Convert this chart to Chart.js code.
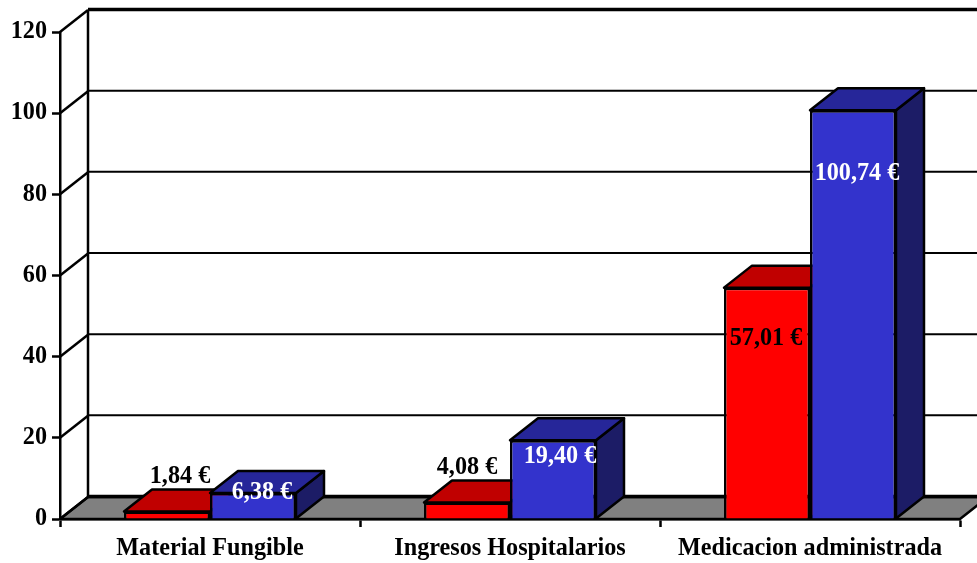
<!DOCTYPE html>
<html>
<head>
<meta charset="utf-8">
<script src="https://cdn.jsdelivr.net/npm/chart.js@4"></script>
<style>html,body{margin:0;padding:0;background:#fff;overflow:hidden}canvas{display:block}</style>
</head>
<body>
<canvas id="c" width="977" height="563"></canvas>
<script>
const categories = ["Material Fungible", "Ingresos Hospitalarios", "Medicacion administrada"];
const redValues = [1.84, 4.08, 57.01];
const blueValues = [6.38, 19.40, 100.74];
const redLabels = ["1,84 €", "4,08 €", "57,01 €"];
const blueLabels = ["6,38 €", "19,40 €", "100,74 €"];
const yTicks = [0, 20, 40, 60, 80, 100, 120];

const DX = 28, DY = 22;
const FONT = "Liberation Serif";
const SIZE = 24.2;
const redLabelOffsets = [[13, -35], [0, -35], [-1, 51]];
const blueLabelOffsets = [[9, 0], [7, 16], [4, 64]];

function poly(ctx, pts, fill, lw) {
  ctx.beginPath();
  pts.forEach((p, i) => i ? ctx.lineTo(p[0], p[1]) : ctx.moveTo(p[0], p[1]));
  ctx.closePath();
  if (fill) { ctx.fillStyle = fill; ctx.fill(); }
  ctx.lineWidth = lw; ctx.strokeStyle = "#000"; ctx.lineJoin = "round"; ctx.stroke();
}
function line(ctx, x1, y1, x2, y2, lw) {
  ctx.beginPath(); ctx.moveTo(x1, y1); ctx.lineTo(x2, y2);
  ctx.lineWidth = lw; ctx.strokeStyle = "#000"; ctx.stroke();
}

const wall3d = {
  id: "wall3d",
  beforeDatasetsDraw(chart) {
    const { ctx, chartArea: a, scales: { y } } = chart;
    ctx.save();
    const y0 = y.getPixelForValue(0);
    // floor
    poly(ctx, [[a.left, y0], [a.left + DX, y0 - DY], [a.right + DX, y0 - DY], [a.right, y0]], "#808080", 2.5);
    // back wall grid and side-wall connectors
    yTicks.forEach(v => {
      const py = y.getPixelForValue(v);
      const heavy = v === 0 || v === 120;
      line(ctx, a.left + DX, py - DY - 0.5, a.right + DX, py - DY - 0.5, heavy ? 3.5 : 2);
      line(ctx, a.left, py, a.left + DX, py - DY, 2.5);
    });
    line(ctx, a.left + DX, y.getPixelForValue(120) - DY, a.left + DX, y0 - DY, 2.5);
    // tops and sides of the bars
    [[0, "#C00000", "#800000"], [1, "#262699", "#1C1C66"]].forEach(([ds, top, side]) => {
      chart.getDatasetMeta(ds).data.forEach(b => {
        const l = b.x - b.width / 2, r = b.x + b.width / 2, t = b.y, bt = b.base;
        poly(ctx, [[r, t], [r + DX, t - DY], [r + DX, bt - DY], [r, bt]], side, 2.5);
        poly(ctx, [[l, t], [l + DX, t - DY], [r + DX, t - DY], [r, t]], top, 2.5);
      });
    });
    ctx.restore();
  },
  afterDatasetsDraw(chart) {
    const { ctx } = chart;
    ctx.save();
    ctx.font = "bold " + SIZE + "px '" + FONT + "'";
    ctx.textAlign = "center";
    ctx.textBaseline = "middle";
    [[0, redLabels, redLabelOffsets, "#000"], [1, blueLabels, blueLabelOffsets, "#fff"]].forEach(([ds, txt, off, col]) => {
      ctx.fillStyle = col;
      chart.getDatasetMeta(ds).data.forEach((b, i) => {
        ctx.fillText(txt[i], b.x + off[i][0], b.y + off[i][1]);
      });
    });
    ctx.restore();
  }
};

new Chart(document.getElementById("c"), {
  type: "bar",
  data: {
    labels: categories,
    datasets: [
      { label: "Rojo", data: redValues, backgroundColor: "#FF0000", borderColor: "#000", borderWidth: 2.5 },
      { label: "Azul", data: blueValues, backgroundColor: "#3333CC", borderColor: "#000", borderWidth: 2.5 }
    ]
  },
  plugins: [wall3d],
  options: {
    responsive: false,
    animation: false,
    devicePixelRatio: 1,
    layout: { padding: { top: 32, right: 17, left: 0, bottom: 0 } },
    plugins: { legend: { display: false }, title: { display: false }, tooltip: { enabled: false } },
    datasets: { bar: { barPercentage: 1, categoryPercentage: 0.5733 } },
    scales: {
      x: {
        afterFit(s) { s.height = 44; },
        grid: { offset: true, drawOnChartArea: false, drawTicks: true, tickLength: 8, tickColor: "#000", tickWidth: 2.5 },
        border: { display: true, color: "#000", width: 2.5 },
        ticks: { color: "#000", font: { family: FONT, weight: "bold", size: SIZE }, padding: 7, maxRotation: 0, autoSkip: false }
      },
      y: {
        min: 0, max: 120,
        afterFit(s) { s.width = 60; },
        grid: { drawOnChartArea: false, drawTicks: true, tickLength: 8, tickColor: "#000", tickWidth: 2.5 },
        border: { display: true, color: "#000", width: 2.5 },
        ticks: { stepSize: 20, color: "#000", font: { family: FONT, weight: "bold", size: SIZE }, padding: 5 }
      }
    }
  }
});
</script>
</body>
</html>
